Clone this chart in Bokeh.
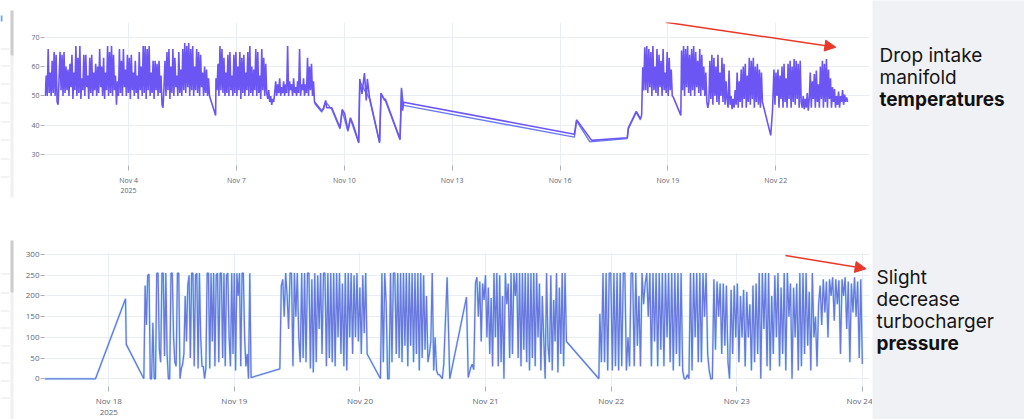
import numpy as np
from bokeh.plotting import figure
from bokeh.layouts import row, column
from bokeh.models import Range1d, FixedTicker, Arrow, NormalHead, BoxAnnotation, ColumnDataSource, Label
from bokeh.core.properties import value
from bokeh.embed import file_html
from bokeh.resources import INLINE

# ---------------- data (days are day-of-month, November 2025) ----------------
# Top chart: intake manifold temperature
top_dense1_span = [1.68, 6.25]
top_dense1 = [50, 57, 50, 66, 51, 58, 50, 62, 51, 65,
              50, 64, 48, 47, 56, 65, 52, 64, 50, 65,
              51, 60, 52, 59, 50, 61, 53, 64, 49, 58,
              52, 67, 50, 63, 51, 67, 49, 56, 52, 64,
              50, 64, 53, 57, 49, 63, 51, 64, 50, 58,
              52, 61, 50, 60, 51, 66, 53, 60, 50, 63,
              49, 58, 52, 67, 50, 65, 51, 67, 50, 64,
              52, 57, 47, 55, 50, 66, 51, 62, 50, 66,
              53, 59, 50, 64, 51, 63, 49, 64, 52, 58,
              50, 62, 51, 57, 49, 65, 52, 60, 50, 67,
              51, 67, 49, 66, 52, 67, 50, 58, 51, 62,
              49, 62, 52, 61, 50, 62, 51, 57, 47, 46,
              53, 62, 50, 65, 52, 66, 49, 60, 51, 66,
              50, 63, 53, 57, 50, 65, 51, 59, 50, 66,
              52, 68, 51, 67, 53, 68, 50, 66, 52, 67,
              50, 60, 52, 66, 51, 65, 50, 64, 53, 58,
              50, 60, 51, 59, 50, 56, 50]
top_link1_day = [6.34, 6.42]
top_link1_val = [46.5, 43.4]
top_dense2_span = [6.43, 9.17]
top_dense2 = [56, 52, 61, 50, 67, 52, 66, 51, 63, 50,
              58, 51, 64, 50, 65, 52, 57, 50, 64, 51,
              65, 50, 60, 52, 65, 49, 63, 51, 64, 50,
              58, 52, 65, 50, 67, 51, 60, 50, 59, 52,
              66, 50, 65, 51, 57, 49, 66, 52, 63, 50,
              61, 51, 49, 52, 48, 50, 47, 49, 48, 51,
              55, 50, 54, 51, 56, 50, 53, 51, 55, 50,
              54, 51, 67, 50, 55, 52, 54, 50, 56, 51,
              53, 50, 55, 51, 66, 50, 54, 52, 56, 50,
              54, 51, 63, 50, 60, 52, 61, 50, 55, 48]
top_link2_day = [9.37, 9.42, 9.48, 9.51, 9.65, 9.88, 9.94, 10.01, 10.10, 10.17,
                 10.24, 10.40, 10.43, 10.49, 10.56, 10.61, 10.64, 10.70, 10.98, 11.02,
                 11.12, 11.14, 11.55, 11.59, 11.62, 11.65, 16.40, 16.46, 16.88, 17.87,
                 17.90, 18.12, 18.24, 18.27]
top_link2_val = [45.0, 45.5, 48.5, 46.0, 46.0, 39.2, 45.4, 44.0, 38.3, 42.6,
                 40.5, 34.3, 55.8, 50.7, 57.8, 48.5, 55.8, 49.6, 34.3, 51.0,
                 48.5, 49.0, 35.4, 52.8, 45.0, 47.9, 37.0, 41.9, 34.9, 35.8,
                 39.2, 44.8, 42.2, 43.5]
top_dense3_span = [18.30, 19.15]
top_dense3 = [59.8, 51.9, 66.6, 52, 67, 51, 66, 53, 65, 50, 67, 52, 60, 51, 66, 50,
              64, 53, 62, 50, 66, 52, 58, 51, 65, 50, 63, 52, 59, 50, 49.6]
top_link3_day = [19.36]
top_link3_val = [43.4]
top_dense4_span = [19.38, 21.63]
top_dense4 = [65.5, 52, 67, 50, 66, 53, 67, 51, 64, 50, 66, 52, 67, 50, 65, 53, 62, 51, 66, 50,
              64, 52, 60, 50, 58,
              48, 46, 48,
              62, 49, 64, 47, 63, 50, 60, 48, 64, 47, 58, 50, 63, 48, 61, 47, 55, 49,
              46, 58.7, 47, 50, 45.5, 49, 46, 52,
              47, 58, 46, 55, 48, 59, 46, 60, 49, 61, 46, 57, 48, 63, 47, 62, 49, 63, 46, 60,
              48, 61, 47, 59, 46, 58, 48]
top_link4_day = [21.86, 21.91]
top_link4_val = [36.6, 45.0]
top_dense5_span = [21.95, 24.0]
top_dense5 = [59, 47, 58, 50, 59, 46, 57, 49, 60, 46, 61, 48, 56, 46, 61, 49, 62, 46, 60, 48,
              62.6, 47, 62, 49, 61, 46, 62, 48,
              46, 50, 45.5, 49, 46, 51, 45, 49,
              58, 46, 55, 49, 57.5, 46, 58.7, 48, 54, 46, 60, 49, 62, 46, 61, 48, 62.6, 46, 59,
              49, 56, 46, 53,
              48, 52.4, 46, 50, 47, 51.5, 46, 50, 48, 52, 47, 50.5, 48, 49.5, 48]
# second (overlapping) temperature trace, visible where samples are sparse
top_b_day = [9.17, 9.37, 9.48, 9.65, 9.88, 9.94, 10.10, 10.17, 10.40, 10.43, 10.56, 10.64,
             10.70, 10.98, 11.02, 11.14, 11.55, 11.59, 11.65, 16.40, 16.46, 16.83, 17.87,
             17.90, 18.12, 18.24]
top_b_val = [47.5, 44.5, 48.0, 45.5, 38.8, 45.0, 38.0, 42.2, 34.0, 55.0, 52.0, 50.5,
             49.0, 34.0, 50.5, 48.5, 35.0, 52.0, 46.8, 36.0, 41.5, 34.4, 35.5,
             38.8, 44.4, 41.8]
top_tick_days = [4, 7, 10, 13, 16, 19, 22]
top_tick_labels = ["Nov 4\n2025", "Nov 7", "Nov 10", "Nov 13", "Nov 16", "Nov 19", "Nov 22"]
top_y_ticks = [30, 40, 50, 60, 70]

# Bottom chart: turbocharger pressure
bot_link0_day = [17.488, 17.894, 18.133, 18.139]
bot_link0_val = [0, 0, 193, 83]
bot_dense1_span = [18.279, 19.133]
bot_dense1 = [0, 225, 130, 250, 252, 0, 0, 135, 0, 0, 255, 255, 70, 40, 255, 255, 55, 255, 60, 0,
              0, 255, 255, 100, 40, 30, 255, 255, 0, 25, 35, 60, 200, 90, 225, 250, 50, 255, 255, 30,
              250, 255, 25, 255, 100, 30, 30, 0, 25, 255, 255, 25, 255, 90, 255, 30, 250, 255, 40, 255,
              255, 50, 255, 30, 250, 255, 100, 30, 255, 60, 255, 20, 255, 200, 255, 30, 255, 255, 100, 30,
              60, 0, 255, 3]
bot_dense2_span = [19.362, 20.057]
bot_dense2 = [24, 225, 240, 150, 255, 200, 120, 255, 255, 30, 255, 150, 255, 100, 40, 255, 50, 255, 40, 255,
              255, 25, 240, 15, 255, 40, 250, 120, 255, 60, 255,
              255, 30, 255, 50, 255, 40, 255, 30, 255, 100, 255, 60, 230, 30, 255, 20, 255, 100, 255,
              60, 250, 100, 255, 90, 220, 60, 250, 110, 255, 60]
bot_dense3_span = [20.163, 20.667]
bot_dense3 = [0, 255, 40, 255, 180, 0, 0, 255, 40, 255, 255, 60, 255, 50, 255, 40, 255, 80, 255, 30,
              255, 80, 255, 40, 255, 60, 255, 20, 255, 50, 250, 70, 200, 40, 60, 90, 255, 20, 100, 20,
              10, 10, 5, 0, 35]
bot_link3_day = [20.694, 20.715, 20.848, 20.862, 20.880, 20.893, 20.906]
bot_link3_val = [245, 0, 197, 3, 25, 35, 22]
bot_dense4_span = [20.920, 21.644]
bot_dense4 = [232, 245, 150, 235, 90, 230, 190, 250, 100, 220, 60, 195, 30, 255, 100, 255, 30, 250, 40, 200,
              0, 255, 180, 230, 50, 255, 60, 255, 200, 255, 50, 255, 30, 255, 70, 255, 40, 255, 20, 255,
              50, 255, 30, 255, 100, 230, 20, 200, 100, 0, 255, 80, 40, 250, 20, 190, 90, 255, 15, 220,
              60, 255, 30, 255, 90]
bot_link4_day = [21.902]
bot_link4_val = [0]
bot_dense5_span = [21.91, 24.0]
bot_dense5 = [157, 40, 255, 40, 255, 20, 255, 255, 20, 255, 30, 255, 20, 255, 30, 255, 255, 20, 100, 30,
              255, 255, 30, 255, 80, 200, 30, 255, 180, 230, 255, 150, 255, 30, 255, 90, 255, 30, 255, 70,
              255, 30, 255, 100, 255, 40, 255, 20, 255, 60, 255, 30, 255, 20, 0, 0, 10, 0, 255, 20,
              255, 100, 255, 40, 255, 40, 255, 150, 255, 60, 20, 0, 0, 240, 70, 235, 150, 230, 60, 230,
              80, 225, 40, 0, 215, 60, 225, 100, 230, 40, 200, 100, 215, 30, 210, 100, 180, 20, 225, 40,
              230, 60, 255, 0, 255, 120, 255, 30, 255, 20, 200, 60, 250, 100, 255, 30, 220, 60, 255, 20,
              255, 150, 230, 0, 220, 100, 230, 20, 255, 30, 255, 60, 255, 80, 210, 20, 255, 100, 150, 30,
              180, 225, 130, 240, 160, 235, 100, 240, 200, 245, 140, 240, 180, 238, 60, 240, 200, 245, 120, 235,
              40, 230, 160, 245, 150, 235, 50, 240, 36]
bot_tick_days = [18, 19, 20, 21, 22, 23, 24]
bot_tick_labels = ["Nov 18\n2025", "Nov 19", "Nov 20", "Nov 21", "Nov 22", "Nov 23", "Nov 24"]
bot_y_ticks = [0, 50, 100, 150, 200, 250, 300]

top_note = ["Drop intake", "manifold", "temperatures"]
bot_note = ["Slight", "decrease", "turbocharger", "pressure"]
top_arrow_day = [18.935, 23.672]
top_arrow_val = [75.1, 66.6]
bot_arrow_day = [23.388, 24.03]
bot_arrow_val = [297.6, 265.5]

# ---------------- helpers ----------------
DAY_MS = 86400000.0
BASE_MS = float(np.datetime64("2025-11-01T00:00:00", "ms").astype(np.int64))


def to_ms(days):
    return BASE_MS + (np.asarray(days, dtype=float) - 1.0) * DAY_MS


def dense(span, vals):
    return np.linspace(span[0], span[1], len(vals)), np.asarray(vals, dtype=float)


def join(pieces):
    d = np.concatenate([np.asarray(p[0], float) for p in pieces])
    v = np.concatenate([np.asarray(p[1], float) for p in pieces])
    return to_ms(d), v


top_x, top_y = join([
    dense(top_dense1_span, top_dense1), (top_link1_day, top_link1_val),
    dense(top_dense2_span, top_dense2), (top_link2_day, top_link2_val),
    dense(top_dense3_span, top_dense3), (top_link3_day, top_link3_val),
    dense(top_dense4_span, top_dense4), (top_link4_day, top_link4_val),
    dense(top_dense5_span, top_dense5)])
topb_x, topb_y = join([(top_b_day, top_b_val)])
bot_x, bot_y = join([
    (bot_link0_day, bot_link0_val), dense(bot_dense1_span, bot_dense1),
    dense(bot_dense2_span, bot_dense2), dense(bot_dense3_span, bot_dense3),
    (bot_link3_day, bot_link3_val), dense(bot_dense4_span, bot_dense4),
    (bot_link4_day, bot_link4_val), dense(bot_dense5_span, bot_dense5)])

GRID = "#e9edf4"
LABEL = "#5d6678"
TICK = "#aab1bd"
RED = "#e8392b"
FONT = "Open Sans"


def style(p, tick_days, tick_labels, y_ticks, size, lh, standoff, tick_out):
    p.outline_line_color = None
    p.background_fill_color = "white"
    p.border_fill_color = "white"
    xt = FixedTicker(ticks=[float(t) for t in to_ms(tick_days)])
    p.xaxis.ticker = xt
    p.xgrid.ticker = xt
    p.xaxis.major_label_overrides = {int(round(t)): lab for t, lab in zip(to_ms(tick_days), tick_labels)}
    yt = FixedTicker(ticks=y_ticks)
    p.yaxis.ticker = yt
    p.ygrid.ticker = yt
    p.xgrid.grid_line_color = GRID
    p.ygrid.grid_line_color = GRID
    for ax in (p.xaxis[0], p.yaxis[0]):
        ax.axis_line_color = None
        ax.minor_tick_line_color = None
        ax.major_tick_in = 0
        ax.major_tick_line_color = TICK
        ax.major_label_text_font = FONT
        ax.major_label_text_font_size = size
        ax.major_label_text_color = LABEL
    p.xaxis.major_tick_out = tick_out
    p.xaxis.major_label_standoff = standoff
    p.xaxis.major_label_text_line_height = lh
    p.yaxis.major_tick_out = 4
    p.yaxis.major_label_standoff = 1


# ---------------- top chart ----------------
top = figure(width=856, height=211, x_axis_type="datetime", output_backend="svg",
             toolbar_location=None, x_range=Range1d(to_ms(1.66), to_ms(24.608)),
             y_range=Range1d(26.36, 75.0), min_border_left=21, min_border_right=2,
             min_border_top=22, min_border_bottom=46)
style(top, top_tick_days, top_tick_labels, top_y_ticks, "7px", 1.15, 5, 5)
top.line(x="x", y="y", source=ColumnDataSource(dict(x=topb_x, y=topb_y)),
         line_color="#5a6cf0", line_width=1.4, line_alpha=0.9)
top.line(x="x", y="y", source=ColumnDataSource(dict(x=top_x, y=top_y)),
         line_color="#6b56f3", line_width=1.6)
top.add_layout(Arrow(end=NormalHead(size=11, fill_color=RED, line_color=RED),
                     x_start=float(to_ms(top_arrow_day[0])), y_start=top_arrow_val[0],
                     x_end=float(to_ms(top_arrow_day[1])), y_end=top_arrow_val[1],
                     line_color=RED, line_width=1.5))
# plotly mode-bar icons below the plot area (canvas pixel units)
for cx, glyph in ((827, "\u25d9"), (847, "\u229e")):
    top.add_layout(Label(x=cx, y=190, x_units="canvas", y_units="canvas", text=glyph,
                         text_align="center", text_baseline="middle", text_font_size="10px",
                         text_color="#c4c8cf", text_font="DejaVu Sans"))

# ---------------- bottom chart ----------------
bot = figure(width=856, height=208, x_axis_type="datetime", output_backend="svg",
             toolbar_location=None, x_range=Range1d(to_ms(17.488), to_ms(24.057)),
             y_range=Range1d(-18.6, 304.8), min_border_left=28, min_border_right=3,
             min_border_top=41, min_border_bottom=33)
style(bot, bot_tick_days, bot_tick_labels, bot_y_ticks, "8px", 1.0, 3, 5)
bsrc = ColumnDataSource(dict(x=bot_x, y=bot_y))
bot.line(x="x", y="y", source=bsrc, line_color="#9fe4f5", line_width=2.4, line_alpha=0.55)
bot.line(x="x", y="y", source=bsrc, line_color="#6370dc", line_width=1.3, line_alpha=0.95)
bot.add_layout(Arrow(end=NormalHead(size=11, fill_color=RED, line_color=RED),
                     x_start=float(to_ms(bot_arrow_day[0])), y_start=bot_arrow_val[0],
                     x_end=float(to_ms(bot_arrow_day[1])), y_end=bot_arrow_val[1],
                     line_color=RED, line_width=1.5))

# ---------------- side strip (neighbouring dashboard widgets) ----------------
side = figure(width=16, height=419, output_backend="svg", toolbar_location=None,
              x_range=Range1d(0, 16), y_range=Range1d(419, 0), min_border=0,
              x_axis_location=None, y_axis_location=None)
side.grid.visible = False
side.outline_line_color = None
side.background_fill_color = "white"
side.border_fill_color = "white"
for t, b, c in ((10, 197, "#f0f0f0"), (10, 55, "#cdcdcd"), (240, 419, "#f0f0f0"), (240, 292, "#cdcdcd")):
    side.add_layout(BoxAnnotation(left=10, right=13, top=t, bottom=b, fill_color=c, fill_alpha=1,
                                  line_color=None))
for yy in (48, 65, 83, 102, 121, 139, 158, 176, 273, 292, 310, 327, 345, 362, 380, 397):
    side.add_layout(BoxAnnotation(left=0, right=9, top=yy, bottom=yy + 1, fill_color="#e8e8e8",
                                  fill_alpha=1, line_color=None))
side.add_layout(BoxAnnotation(left=0, right=2, top=15, bottom=21, fill_color="#4a8ff0",
                              fill_alpha=0.8, line_color=None))

# ---------------- annotation panel ----------------
PANEL = "#f0f1f5"
panel = figure(width=152, height=419, output_backend="svg", toolbar_location=None,
               x_range=Range1d(0, 152), y_range=Range1d(419, 0), min_border=0,
               x_axis_location=None, y_axis_location=None)
panel.grid.visible = False
panel.outline_line_color = None
panel.background_fill_color = PANEL
panel.border_fill_color = PANEL
tf = value("Inter")
panel.text(x=[7, 7], y=[55, 77], text=top_note[:2], text_font=tf, text_font_size="19px",
           text_color="#151515", text_baseline="alphabetic")
panel.text(x=[7], y=[99], text=top_note[2:], text_font=tf, text_font_size="19px",
           text_font_style="bold", text_color="#111111", text_baseline="alphabetic")
panel.text(x=[4, 4, 4], y=[277, 299, 321], text=bot_note[:3], text_font=tf, text_font_size="19px",
           text_color="#151515", text_baseline="alphabetic")
panel.text(x=[4], y=[343], text=bot_note[3:], text_font=tf, text_font_size="19px",
           text_font_style="bold", text_color="#111111", text_baseline="alphabetic")

layout = row(side, column(top, bot), panel)
open("out.html", "w").write(file_html(layout, INLINE))
